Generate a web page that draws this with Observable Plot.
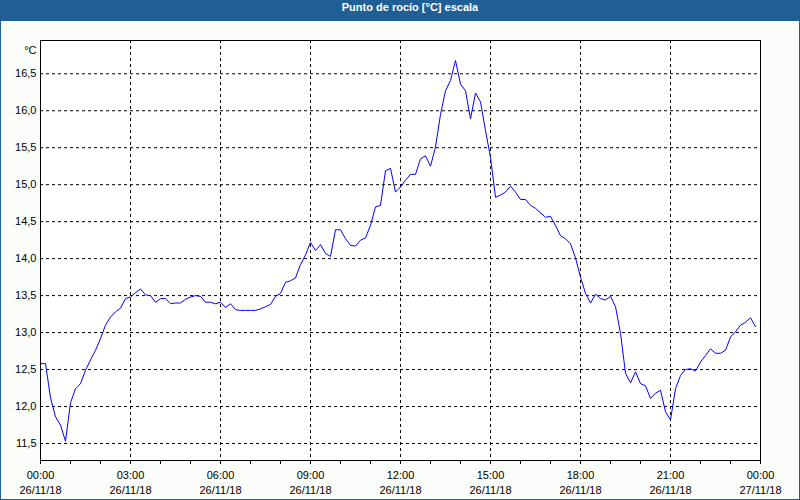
<!DOCTYPE html>
<html><head><meta charset="utf-8">
<script src="https://cdn.jsdelivr.net/npm/d3@7"></script>
<script src="https://cdn.jsdelivr.net/npm/@observablehq/plot@0.6"></script>
<style>
html,body{margin:0;padding:0;background:#fbfdfb;}
#wrap{width:800px;height:500px;box-sizing:border-box;border:1px solid #1f5f96;background:#fbfdfb;overflow:hidden;}
#title{height:20px;line-height:20px;background:#1f5f96;color:#fff;font:bold 11px "Liberation Sans",Arial,sans-serif;text-align:center;padding-left:20px;box-sizing:border-box;}
#chart svg{display:block;}
</style></head>
<body><div id="wrap"><div id="title">Punto de rocío [°C] escala</div><div id="chart"></div></div>
<script>
const day = "2018-11-26";
const times = [
"00:00","00:10","00:20","00:30","00:40","00:50","01:00","01:10","01:20","01:30","01:40","01:50",
"02:00","02:10","02:20","02:30","02:40","02:50","03:00","03:10","03:20","03:30","03:40","03:50",
"04:00","04:10","04:20","04:30","04:40","04:50","05:00","05:10","05:20","05:30","05:40","05:50",
"06:00","06:10","06:20","06:30","06:40","06:50","07:00","07:10","07:20","07:30","07:40","07:50",
"08:00","08:10","08:20","08:30","08:40","08:50","09:00","09:10","09:20","09:30","09:40","09:50",
"10:00","10:10","10:20","10:30","10:40","10:50","11:00","11:10","11:20","11:30","11:40","11:50",
"12:00","12:10","12:20","12:30","12:40","12:50","13:00","13:10","13:20","13:30","13:40","13:50",
"14:00","14:10","14:20","14:30","14:40","14:50","15:00","15:10","15:20","15:30","15:40","15:50",
"16:00","16:10","16:20","16:30","16:40","16:50","17:00","17:10","17:20","17:30","17:40","17:50",
"18:00","18:10","18:20","18:30","18:40","18:50","19:00","19:10","19:20","19:30","19:40","19:50",
"20:00","20:10","20:20","20:30","20:40","20:50","21:00","21:10","21:20","21:30","21:40","21:50",
"22:00","22:10","22:20","22:30","22:40","22:50","23:00","23:10","23:20","23:30","23:40","23:50"
];
const dewPoint = [
12.58,12.58,12.12,11.86,11.75,11.53,12.05,12.24,12.31,12.49,12.63,12.76,
12.92,13.10,13.21,13.28,13.33,13.46,13.48,13.54,13.59,13.51,13.50,13.41,
13.46,13.46,13.39,13.40,13.40,13.45,13.48,13.50,13.49,13.41,13.41,13.39,
13.41,13.34,13.39,13.31,13.30,13.30,13.30,13.30,13.32,13.35,13.38,13.49,
13.53,13.68,13.70,13.74,13.92,14.05,14.22,14.11,14.19,14.07,14.03,14.39,
14.39,14.27,14.18,14.17,14.25,14.28,14.45,14.70,14.72,15.19,15.22,14.90,
14.97,15.06,15.14,15.14,15.35,15.39,15.25,15.51,15.95,16.27,16.41,16.68,
16.36,16.27,15.89,16.24,16.12,15.73,15.37,14.83,14.86,14.90,14.98,14.90,
14.80,14.80,14.72,14.68,14.62,14.56,14.57,14.45,14.31,14.27,14.20,14.01,
13.75,13.53,13.40,13.52,13.46,13.44,13.49,13.35,12.99,12.45,12.32,12.47,
12.31,12.28,12.11,12.18,12.22,11.93,11.82,12.24,12.42,12.50,12.51,12.48,
12.60,12.69,12.78,12.72,12.72,12.76,12.94,13.01,13.10,13.14,13.20,13.08
];
const yTicks = [11.5,12.0,12.5,13.0,13.5,14.0,14.5,15.0,15.5,16.0,16.5];
const xTickLabels = ["2018-11-26T00:00","2018-11-26T03:00","2018-11-26T06:00","2018-11-26T09:00","2018-11-26T12:00","2018-11-26T15:00","2018-11-26T18:00","2018-11-26T21:00","2018-11-27T00:00"];
const yUnit = "°C";

const parse = s => new Date(s + ":00Z");
const data = times.map((t, i) => ({time: parse(day + "T" + t), value: dewPoint[i]}));
const xMajor = xTickLabels.map(parse);
const xMinor = d3.utcHour.range(xMajor[0], new Date(+xMajor[xMajor.length-1] + 1));
const fmtTime = d3.utcFormat("%H:%M");
const fmtDate = d3.utcFormat("%d/%m/%y");
const fmtY = d => d.toFixed(1).replace(".", ",");
const dash = {stroke: "black", strokeOpacity: 1, strokeDasharray: "3,3"};

const chart = Plot.plot({
  width: 798,
  height: 478,
  marginLeft: 39,
  marginRight: 39,
  marginTop: 19,
  marginBottom: 39,
  style: {fontFamily: '"Liberation Sans", Arial, sans-serif', fontSize: "11px", background: "transparent", color: "black"},
  x: {type: "utc", domain: [xMajor[0], xMajor[xMajor.length-1]]},
  y: {domain: [11.27, 16.95]},
  marks: [
    Plot.frame({fill: "white"}),
    Plot.gridY(yTicks, dash),
    Plot.gridX(xMajor.slice(1, -1), dash),
    Plot.axisY(yTicks, {tickSize: 0, tickPadding: 4, tickFormat: fmtY, label: null, fill: "black"}),
    Plot.axisX(xMinor, {tickSize: 4, tickFormat: () => "", label: null, stroke: "black"}),
    Plot.axisX(xMajor, {tickSize: 0, tickPadding: 11, tickFormat: fmtTime, label: null, fill: "black"}),
    Plot.axisX(xMajor, {tickSize: 0, tickPadding: 26, tickFormat: fmtDate, label: null, fill: "black"}),
    Plot.text([yUnit], {frameAnchor: "top-left", dx: -4, dy: 6, textAnchor: "end", fill: "black"}),
    Plot.line(data, {x: "time", y: "value", stroke: "#0000ff", strokeWidth: 1}),
    Plot.frame({stroke: "black"})
  ]
});
document.getElementById("chart").appendChild(chart);
</script>
</body></html>
